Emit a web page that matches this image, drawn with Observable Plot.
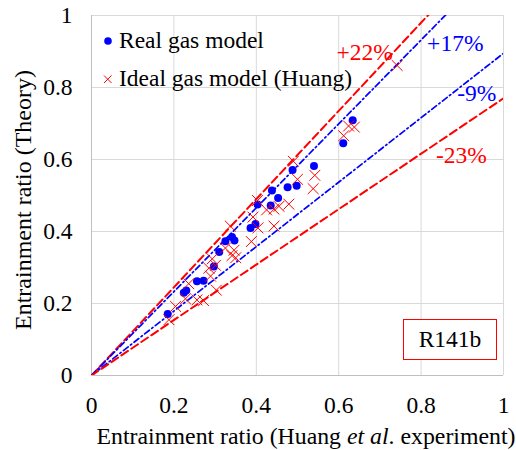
<!DOCTYPE html>
<html><head><meta charset="utf-8">
<script src="https://cdn.jsdelivr.net/npm/d3@7"></script>
<script src="https://cdn.jsdelivr.net/npm/@observablehq/plot@0.6"></script>
<style>
html,body{margin:0;padding:0;background:#fff;}
#chart{position:relative;width:516px;height:450px;}
#chart svg text{font-family:"Liberation Serif","Times New Roman",serif;}
</style></head><body><div id="chart"></div>
<script>
// Real gas model (blue dots)
const realX = [0.185,0.224,0.230,0.256,0.272,0.297,0.310,0.325,0.341,0.347,0.386,0.398,0.403,0.435,0.438,0.453,0.476,0.488,0.498,0.540,0.611,0.634];
const realY = [0.171,0.230,0.236,0.262,0.263,0.303,0.343,0.373,0.385,0.375,0.410,0.421,0.475,0.472,0.514,0.493,0.523,0.571,0.527,0.582,0.645,0.709];
// Ideal gas model (Huang) (red crosses)
const idealX = [0.188,0.204,0.228,0.236,0.256,0.272,0.285,0.289,0.293,0.301,0.303,0.325,0.337,0.341,0.346,0.350,0.388,0.392,0.403,0.404,0.425,0.443,0.443,0.455,0.479,0.490,0.500,0.538,0.542,0.612,0.624,0.638,0.742];
const idealY = [0.155,0.192,0.213,0.255,0.210,0.208,0.298,0.276,0.324,0.306,0.237,0.354,0.415,0.333,0.348,0.327,0.372,0.440,0.486,0.410,0.460,0.462,0.415,0.470,0.476,0.595,0.545,0.519,0.556,0.666,0.693,0.690,0.861];
// Deviation lines
const lineLabels = ["+22%","+17%","-9%","-23%"];
const lineSlopes = [1.225,1.165,0.895,0.77];
const lineColors = ["#ff0000","#0000ff","#0000ff","#ff0000"];
const labelX = [0.663,0.883,0.935,0.898];
const labelY = [0.897,0.922,0.783,0.611];
const ticks = [0,0.2,0.4,0.6,0.8,1];
const seriesNames = ["Real gas model","Ideal gas model (Huang)"];
const boxLabel = "R141b";

const FONT = '"Liberation Serif", "Times New Roman", serif';
const FS = 23.5;
const real = realX.map((x,i)=>({x, y: realY[i]}));
const ideal = idealX.map((x,i)=>({x, y: idealY[i]}));
const labels = lineLabels.map((t,i)=>({text:t, x:labelX[i], y:labelY[i], c:lineColors[i]}));
const lineMarks = lineSlopes.map((k,i)=>Plot.line([{x:0,y:0},{x:1,y:k}], {
  x:"x", y:"y", stroke: lineColors[i], strokeWidth: i===0||i===3 ? 2 : 1.7,
  strokeDasharray: (i===0||i===3) ? "8,4" : "6,3,1.5,3", clip: true
}));

const plot = Plot.plot({
  width:516, height:450, marginLeft:91, marginRight:13, marginTop:15, marginBottom:75,
  style:{fontFamily:FONT, fontSize:FS+"px", background:"white", color:"black", overflow:"visible"},
  x:{domain:[0,1], label:null},
  y:{domain:[0,1], label:null},
  marks:[
    Plot.gridX(ticks,{stroke:"#d9d9d9", strokeOpacity:1}),
    Plot.gridY(ticks,{stroke:"#d9d9d9", strokeOpacity:1}),
    Plot.ruleX([0],{stroke:"#bfbfbf"}),
    Plot.ruleY([0],{stroke:"#bfbfbf"}),
    Plot.axisX(ticks,{tickSize:0, tickPadding:21, tickFormat:d=>String(d), fontSize:FS, fontFamily:FONT, label:null}),
    Plot.axisY(ticks,{tickSize:0, tickPadding:19, tickFormat:d=>String(d), fontSize:FS, fontFamily:FONT, label:null}),
    ...lineMarks,
    Plot.dot(real,{x:"x", y:"y", r:4, fill:"#0000ff", stroke:"none"}),
    Plot.dot(ideal,{x:"x", y:"y", symbol:"times", r:5, stroke:"#ff0000", strokeWidth:1}),
    Plot.text(labels,{x:"x", y:"y", text:"text", fill:"c", fontSize:FS, fontFamily:FONT})
  ]
});
document.getElementById("chart").appendChild(plot);

const svg = d3.select(plot);
const g = svg.append("g").attr("font-family",FONT).attr("font-size",FS).attr("fill","black").attr("text-anchor","start");
// x title
const xt = g.append("text").attr("x",306).attr("y",444).attr("text-anchor","middle").attr("font-size",23.8);
xt.append("tspan").text("Entrainment ratio (Huang ");
xt.append("tspan").attr("font-style","italic").text("et al");
xt.append("tspan").text(". experiment)");
// y title
g.append("text").attr("transform","translate(31,200) rotate(-90)").attr("text-anchor","middle").attr("font-size",24).text("Entrainment ratio (Theory)");
// legend
g.append("circle").attr("cx",108).attr("cy",41).attr("r",3.8).attr("fill","#0000ff");
g.append("text").attr("x",119).attr("y",48).attr("text-anchor","start").text(seriesNames[0]);
g.append("path").attr("d","M104,75.5L111.5,83M104,83L111.5,75.5").attr("stroke","#ff0000").attr("stroke-width",1).attr("fill","none");
g.append("text").attr("x",119).attr("y",86).attr("text-anchor","start").text(seriesNames[1]);
// R141b box
g.append("rect").attr("x",403.5).attr("y",319.5).attr("width",93).attr("height",40).attr("fill","white").attr("stroke","#ff0000").attr("stroke-width",1);
g.append("text").attr("x",450).attr("y",347).attr("text-anchor","middle").text(boxLabel);
</script></body></html>
